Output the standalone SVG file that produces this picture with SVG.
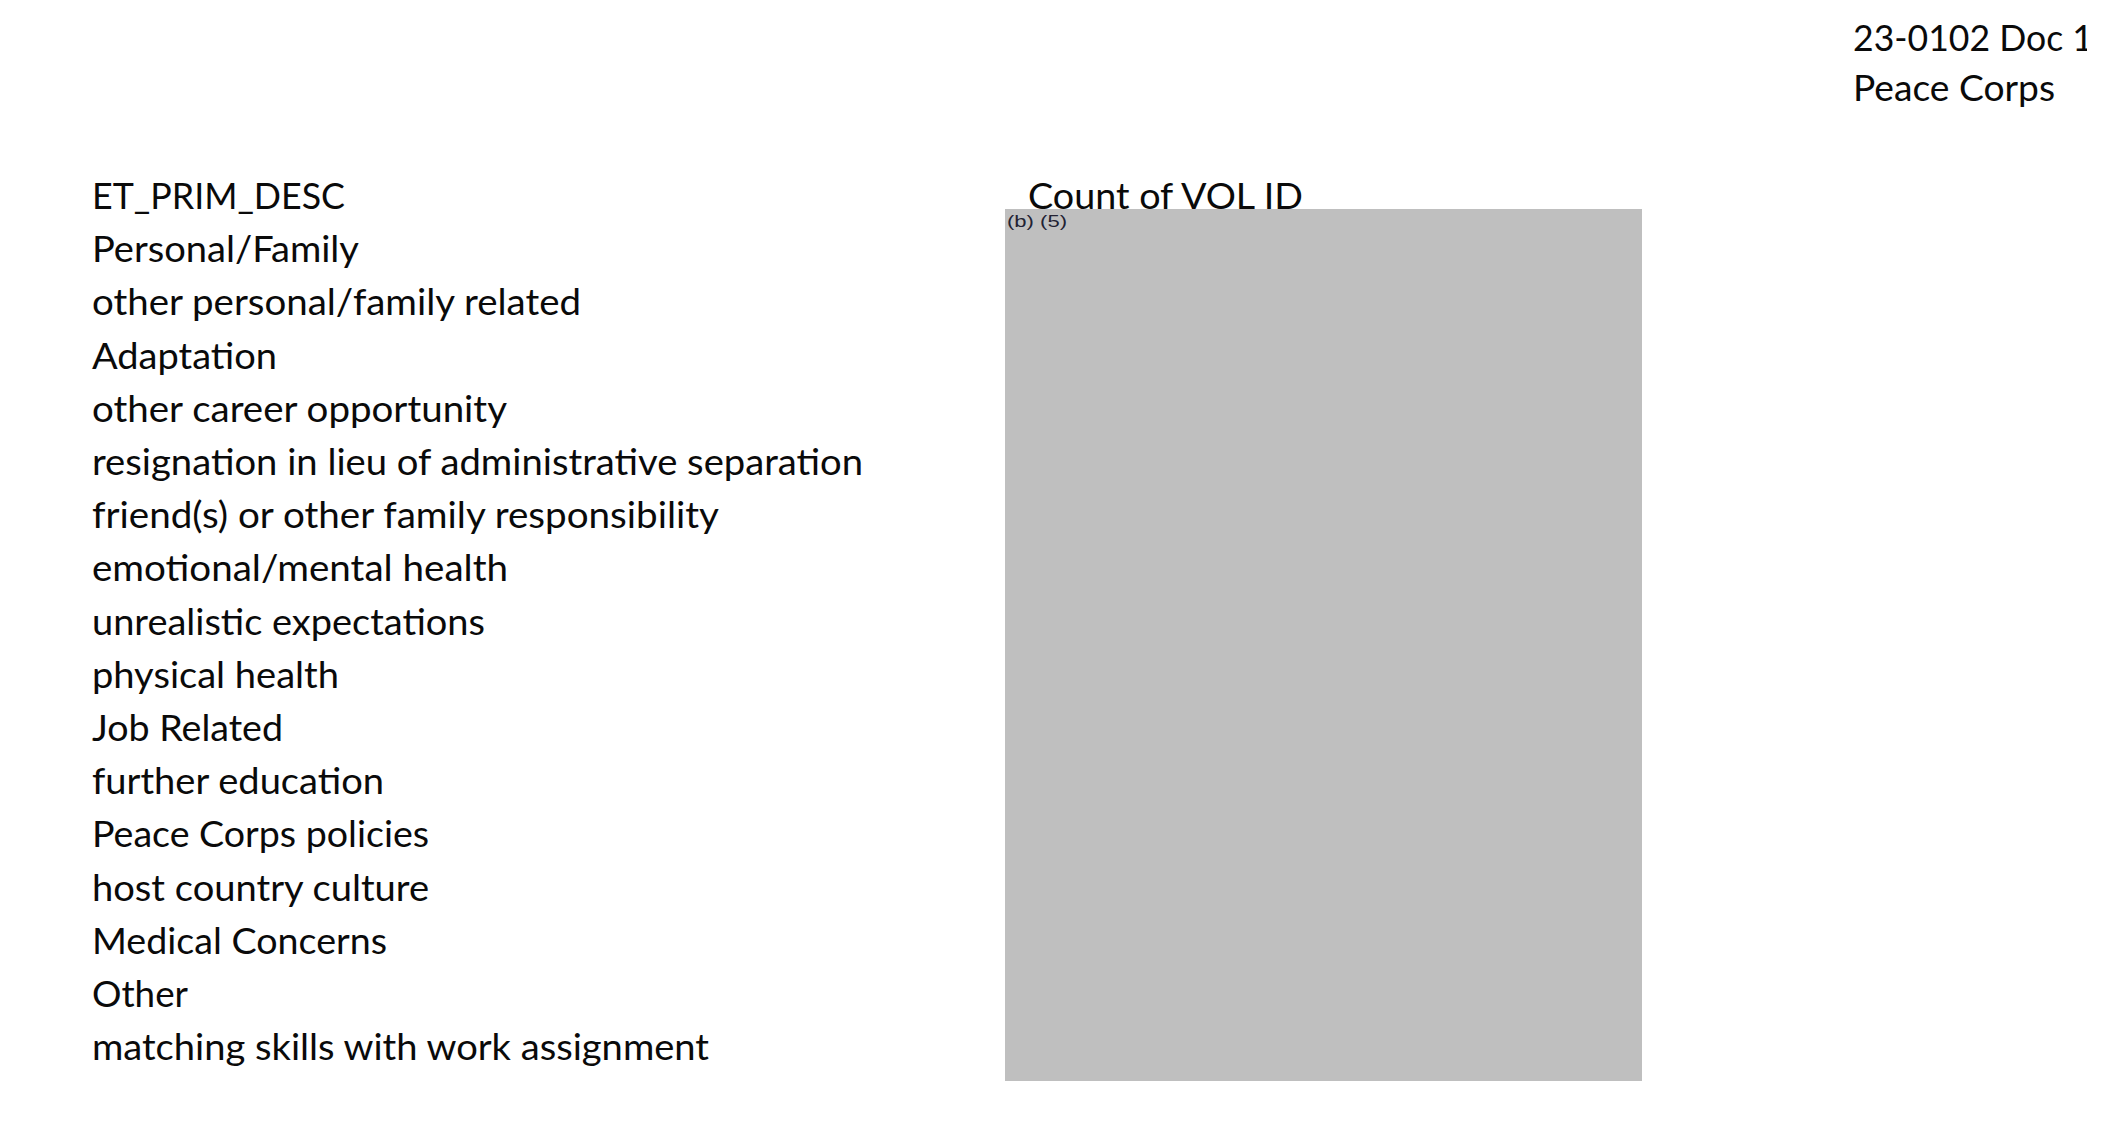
<svg xmlns="http://www.w3.org/2000/svg" width="2112" height="1136" viewBox="0 0 2112 1136">
  <style>
    .t { font-family: "Lato", "Liberation Sans", sans-serif; font-size: 37px; fill: #0a0a0a; }
    .s { font-family: "Liberation Sans", "DejaVu Sans", sans-serif; font-size: 17px; fill: #222233; }
    .box { fill: #bfbfbf; }
  </style>
  <defs>
    <clipPath id="hdrclip"><rect x="0" y="0" width="2087" height="1136"/></clipPath>
  </defs>
  <rect x="0" y="0" width="2112" height="1136" fill="#ffffff"/>

  <g id="header" clip-path="url(#hdrclip)">
    <text class="t" x="1853" y="51" textLength="240" lengthAdjust="spacingAndGlyphs">23-0102 Doc 1</text>
    <text class="t" x="1853" y="101" textLength="202" lengthAdjust="spacingAndGlyphs">Peace Corps</text>
  </g>

  <g id="row-labels">
    <text class="t" x="92" y="209" textLength="253" lengthAdjust="spacingAndGlyphs">ET_PRIM_DESC</text>
    <text class="t" x="92" y="262.2" textLength="267" lengthAdjust="spacingAndGlyphs">Personal/Family</text>
    <text class="t" x="92" y="315.4" textLength="489" lengthAdjust="spacingAndGlyphs">other personal/family related</text>
    <text class="t" x="92" y="368.6" textLength="185" lengthAdjust="spacingAndGlyphs">Adaptation</text>
    <text class="t" x="92" y="421.8" textLength="415" lengthAdjust="spacingAndGlyphs">other career opportunity</text>
    <text class="t" x="92" y="475" textLength="771" lengthAdjust="spacingAndGlyphs">resignation in lieu of administrative separation</text>
    <text class="t" x="92" y="528.2" textLength="627" lengthAdjust="spacingAndGlyphs">friend(s) or other family responsibility</text>
    <text class="t" x="92" y="581.4" textLength="416" lengthAdjust="spacingAndGlyphs">emotional/mental health</text>
    <text class="t" x="92" y="634.6" textLength="393" lengthAdjust="spacingAndGlyphs">unrealistic expectations</text>
    <text class="t" x="92" y="687.8" textLength="247" lengthAdjust="spacingAndGlyphs">physical health</text>
    <text class="t" x="92" y="741" textLength="191" lengthAdjust="spacingAndGlyphs">Job Related</text>
    <text class="t" x="92" y="794.2" textLength="292" lengthAdjust="spacingAndGlyphs">further education</text>
    <text class="t" x="92" y="847.4" textLength="337" lengthAdjust="spacingAndGlyphs">Peace Corps policies</text>
    <text class="t" x="92" y="900.6" textLength="337" lengthAdjust="spacingAndGlyphs">host country culture</text>
    <text class="t" x="92" y="953.8" textLength="295" lengthAdjust="spacingAndGlyphs">Medical Concerns</text>
    <text class="t" x="92" y="1007" textLength="96" lengthAdjust="spacingAndGlyphs">Other</text>
    <text class="t" x="92" y="1060.2" textLength="617" lengthAdjust="spacingAndGlyphs">matching skills with work assignment</text>
  </g>

  <g id="count-column">
    <text class="t" x="1028" y="209" textLength="275" lengthAdjust="spacingAndGlyphs">Count of VOL ID</text>
    <rect class="box" x="1005" y="209" width="637" height="872"/>
    <text class="s" x="1007" y="227" textLength="60" lengthAdjust="spacingAndGlyphs">(b) (5)</text>
  </g>

  <g id="connectors"></g>
</svg>
